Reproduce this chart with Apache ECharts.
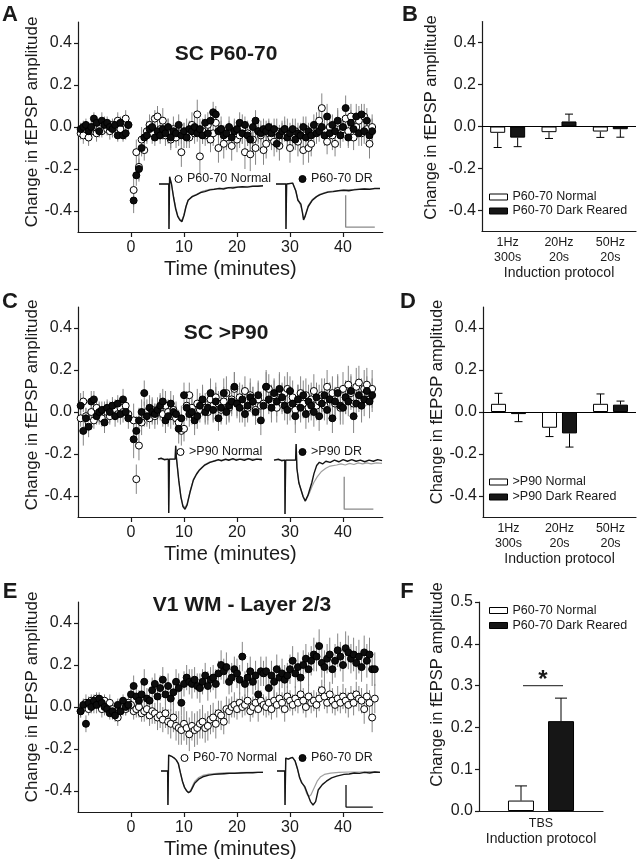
<!DOCTYPE html>
<html><head><meta charset="utf-8">
<script src="https://cdn.jsdelivr.net/npm/echarts@6/dist/echarts.min.js"></script>
<style>html,body{margin:0;padding:0;background:#fff}#c{width:638px;height:864px}</style>
</head><body><div id="c"></div>
<script>
// ---------------- DATA ----------------
// time-course sampling grid (minutes): one point every 30 s
const timeStart = -9.5, timeStep = 0.5;
const timeTicks = [0, 10, 20, 30, 40];
const ampTicks = [-0.4, -0.2, 0, 0.2, 0.4];

// Panel A – SC P60-70 (values in hundredths)
const aNormal = [-3,-4,-1,-5,-2,0,-3,-1,-2,1, -1,-2,1,0,3,-1,2,4,1,null,
  -30,-12,-19,-6,-11,-2,1,-3,4,5, -1,3,-4,-2,-6,-1,-5,-3,-12,-4,
  -2,-5,1,-3,6,-14,-2,-4,1,-6, -3,2,-10,-1,-8,-5,-3,-9,-2,-6,
  -4,-1,-12,-3,-13,-6,-10,-2,-4,-11, -8,-3,-5,-7,-2,-9,-4,-1,-3,-10,
  -5,-2,-7,-4,-11,-1,-10,-8,-3,1, 3,9,-2,-7,0,-4,-8,2,-3,-1,
  4,-2,5,-5,0,3,-3,5,-1,-8, 0,null];
const aNormalErr = [3,4,3,4,3,3,4,3,3,4, 3,4,3,3,4,3,3,4,3,null,
  8,6,7,6,5,5,5,5,4,5, 5,6,5,6,5,6,5,6,7,6, 6,5,6,5,7,8,6,5,6,6,
  6,6,7,6,7,6,6,7,6,6, 6,7,8,6,8,7,8,6,7,7, 7,6,6,7,6,7,6,6,7,7,
  6,6,7,6,7,6,7,6,6,6, 6,7,6,6,6,7,6,6,7,6, 6,7,6,6,6,7,6,6,6,7, 6,null];
const aDR = [-1,0,1,-2,0,4,2,-2,3,1, 2,0,-1,1,-4,2,-4,-3,1,null,
  -35,-23,-20,-10,-5,-4,-1,0,-5,-2, -4,-1,-3,0,-5,-2,-3,1,-4,-2,
  -5,-1,-2,0,-3,-1,-4,2,-3,3, 7,6,-2,-1,-4,-3,0,-5,-2,-1,
  2,-3,1,-4,-6,0,3,-2,-3,-1, -2,0,-3,-1,-8,-4,-2,-1,-5,-3,
  -1,-6,-3,-4,0,-5,-2,-4,1,-3, -2,0,-4,5,-3,1,-2,3,-4,0,
  9,-5,2,-1,5,-3,6,-2,3,-4, -2,null];
const aDRErr = [3,3,3,4,3,3,3,3,4,3, 3,3,4,3,3,3,3,3,3,null,
  6,5,5,4,4,4,4,4,4,4, 4,5,4,4,5,4,4,5,4,4, 5,4,4,5,4,5,4,4,5,4,
  5,4,5,4,5,4,5,4,5,4, 5,5,4,5,5,4,5,5,4,5, 5,4,5,5,4,5,5,4,5,5,
  5,5,5,4,5,5,4,5,5,5, 5,5,5,6,5,5,5,6,5,5, 6,5,6,5,6,6,5,6,6,5, 6,null];

// Panel C – SC >P90
const cNormal = [-3,5,-2,-5,0,-4,2,-1,-3,1, 0,-2,3,1,-1,2,0,3,-1,null,
  -4,-32,-16,-5,-1,0,-3,1,-2,0, 2,-1,3,0,-2,1,-3,-5,-9,-8,
  3,8,2,-2,4,1,5,2,0,6, 3,7,4,1,5,9,2,6,11,4,
  7,3,10,2,8,5,1,6,3,4, 12,11,5,8,2,10,6,9,11,3,
  7,1,5,9,4,8,2,6,10,3, 5,8,3,12,6,9,4,10,2,11,
  7,13,9,4,12,14,8,11,13,6, 11,null];
const cNormalErr = [4,5,4,4,5,4,4,5,4,4, 5,4,4,5,4,4,5,4,4,null,
  8,7,7,6,6,6,5,6,6,6, 6,6,7,6,6,7,6,6,7,6, 7,6,7,6,7,6,7,7,6,7,
  7,7,6,7,7,8,7,7,8,7, 7,8,7,7,8,7,7,8,7,7, 8,7,8,7,7,8,7,8,8,7,
  8,7,8,8,7,8,7,8,8,7, 8,8,7,8,8,8,7,8,8,8, 8,9,8,8,9,8,8,9,8,8, 9,null];
const cDR = [3,-9,-3,-7,5,6,-2,0,1,-5, 2,0,3,-2,4,-1,6,0,-3,null,
  -13,-9,-4,0,9,-2,2,0,-1,1, 3,5,-4,-2,4,0,-1,-8,-3,8,
  2,-1,0,-4,-2,3,6,0,2,9, 1,5,-3,2,9,0,3,5,12,4,
  2,6,-1,3,7,5,0,8,-4,3, 12,6,2,9,5,11,7,3,1,10,
  4,-2,6,2,8,-1,5,3,0,7, -2,4,8,1,6,-3,5,9,3,2,
  7,5,10,-2,4,8,3,6,10,5, 8,null];
const cDRErr = [6,7,5,5,5,4,4,5,4,5, 4,5,4,5,4,5,5,4,5,null,
  9,7,6,6,6,5,6,6,5,6, 6,6,6,5,6,6,6,7,6,6, 6,6,6,7,6,6,7,6,6,7,
  6,7,6,7,7,6,7,7,7,6, 7,7,6,7,7,7,6,7,7,7, 7,7,7,7,7,8,7,7,7,7,
  7,8,7,7,7,7,8,7,7,7, 7,7,8,7,8,7,7,8,7,8, 8,7,8,8,7,8,8,8,7,8, 8,null];

// Panel E – V1 WM - Layer 2/3
const eNormal = [-2,0,2,-1,3,1,4,2,-1,3, 0,2,-1,-3,-5,-2,0,-1,2,1,
  -2,-1,0,-3,-2,-1,-4,-2,-3,-5, -4,-6,-3,-7,-8,-5,-9,-10,-11,-8,
  -10,-13,-9,-11,-10,-8,-7,-10,-9,-6, -5,-8,-3,-4,-7,-1,-2,0,1,-1,
  2,0,1,3,-2,0,2,-1,3,1, 0,2,-1,3,1,4,2,-1,5,3,
  1,4,2,6,3,0,5,2,3,1, 4,8,5,2,6,3,1,4,2,5,
  3,1,5,2,6,4,3,-1,5,2, -5,4];
const eNormalErr = [3,3,4,3,3,4,3,3,4,3, 3,4,3,3,4,3,4,3,3,4,
  4,4,5,4,5,5,5,6,5,6, 6,6,7,6,7,7,7,8,7,8, 8,8,7,8,8,7,8,7,7,7,
  7,7,6,7,6,6,6,5,6,5, 5,5,5,6,5,5,5,6,5,5, 5,6,5,5,6,5,5,6,5,5,
  5,6,5,5,6,5,6,5,5,6, 6,5,6,5,6,6,5,6,5,6, 6,6,5,6,6,6,6,7,6,6, 7,7];
const eDR = [-2,1,-8,2,0,3,1,4,2,0, -1,-3,-2,-4,1,-2,3,0,1,6,
  10,5,3,6,12,4,3,8,11,5, 9,13,6,10,4,7,12,9,2,11,
  14,12,11,13,10,9,12,15,10,13, 14,11,16,20,17,19,12,14,18,16,
  13,24,11,14,17,12,15,6,17,16, 17,9,15,12,18,14,16,13,15,18,
  22,16,19,14,20,23,18,22,25,24, 29,21,19,23,25,18,22,27,24,20,
  28,26,23,25,21,24,19,26,22,25, 18,18];
const eDRErr = [3,3,4,3,3,3,4,3,3,4, 3,3,4,3,3,4,3,4,3,5,
  5,4,5,5,6,5,5,6,5,6, 6,6,5,6,6,6,6,7,6,6, 6,6,7,6,6,7,6,6,7,6,
  6,7,6,7,6,7,6,7,6,7, 7,7,6,7,7,6,7,7,7,6, 7,6,7,7,7,6,7,7,6,7,
  7,7,7,8,7,7,8,7,8,7, 8,7,8,7,8,7,8,8,7,8, 8,8,7,8,8,8,7,8,8,8, 8,8];

// Bar panels
const protocols = ['1Hz\n300s', '20Hz\n20s', '50Hz\n20s'];
const bNormal = [-0.030, -0.027, -0.024], bNormalErr = [0.070, 0.030, 0.028];
const bDR = [-0.053, 0.024, -0.013], bDRErr = [0.043, 0.035, 0.038];
const dNormal = [0.039, -0.075, 0.039], dNormalErr = [0.050, 0.042, 0.047];
const dDR = [-0.010, -0.102, 0.035], dDRErr = [0.036, 0.065, 0.017];
const fProtocols = ['TBS'];
const fNormal = [0.025], fNormalErr = [0.035];
const fDR = [0.215], fDRErr = [0.055];

// Inset example traces ([% of sweep, normalised amplitude]); grey = baseline, black = after induction
const trA1grey = [[0,0],[9.4,0],[9.6,-1],[10,-1],[10.2,0.15],[11,0.13],[12,0.0],[14,-0.28],[16,-0.52],[18,-0.7],[20,-0.78],[22,-0.81],[24,-0.68],[26,-0.49],[28,-0.36],[32,-0.27],[36,-0.23],[42,-0.16],[49,-0.12],[55,-0.1],[62,-0.09],[71,-0.07],[80,-0.06],[90,-0.05],[100,-0.04]];
const trA1black = [[0,0],[9.4,0],[9.6,-1],[10,-1],[10.2,0.16],[11,0.14],[12,0.0],[14,-0.3],[16,-0.55],[18,-0.72],[20,-0.8],[22,-0.84],[24,-0.7],[26,-0.5],[28,-0.36],[32,-0.28],[36,-0.24],[40,-0.19],[44,-0.17],[49,-0.13],[53,-0.12],[58,-0.1],[62,-0.11],[67,-0.08],[71,-0.09],[76,-0.07],[80,-0.06],[85,-0.07],[90,-0.05],[95,-0.05],[100,-0.04]];
const trA2grey = [[0,0],[9.4,0],[9.6,-1],[10,-1],[10.2,0],[16,0.02],[17.5,0.05],[19,-0.15],[21,-0.34],[22.5,-0.4],[24,-0.44],[25.5,-0.62],[26.5,-0.77],[28,-0.7],[31,-0.48],[35,-0.34],[42,-0.23],[50,-0.17],[58,-0.15],[66,-0.13],[75,-0.12],[85,-0.1],[100,-0.1]];
const trA2black = [[0,0],[9.4,0],[9.6,-1],[10,-1],[10.2,0],[16,0.02],[17.5,0.05],[19,-0.15],[21,-0.36],[22.5,-0.4],[24,-0.45],[25.5,-0.65],[26.5,-0.8],[28,-0.72],[31,-0.5],[35,-0.36],[39,-0.28],[42,-0.24],[46,-0.21],[50,-0.18],[55,-0.17],[60,-0.15],[65,-0.14],[70,-0.15],[75,-0.13],[80,-0.12],[85,-0.11],[90,-0.12],[95,-0.1],[100,-0.1]];
const trC1grey = [[0,0],[10,0],[10.3,-1],[10.8,-1],[11,0],[16.5,0],[17,0.25],[17.6,0.05],[20,-0.4],[22,-0.7],[24,-0.86],[26,-0.9],[28,-0.83],[31,-0.58],[34,-0.38],[37,-0.27],[40,-0.19],[45,-0.1],[50,-0.05],[55,-0.03],[60,-0.02],[70,-0.01],[80,0],[90,0],[100,0]];
const trC1black = [[0,0],[3,0.02],[6,-0.01],[10,0],[10.3,-1],[10.8,-1],[11,0],[16.5,0],[17,0.25],[17.6,0.05],[20,-0.4],[22,-0.7],[24,-0.88],[26,-0.93],[28,-0.85],[31,-0.6],[34,-0.39],[37,-0.28],[40,-0.2],[45,-0.11],[50,-0.06],[55,-0.03],[58,-0.01],[61,-0.03],[65,0],[68,-0.02],[72,0.01],[75,-0.02],[79,0],[83,-0.02],[87,0.01],[91,-0.02],[95,0],[100,-0.01]];
const trC2grey = [[0,0],[10,0],[10.2,-1],[10.6,-1],[10.8,0],[20,0],[20.5,0.3],[21.2,-0.15],[23,-0.42],[25,-0.55],[27,-0.68],[29,-0.76],[30,-0.78],[31.5,-0.66],[33,-0.6],[35,-0.5],[37,-0.41],[40,-0.31],[44,-0.21],[48,-0.15],[52,-0.11],[58,-0.09],[62,-0.07],[66,-0.09],[70,-0.06],[74,-0.08],[78,-0.05],[82,-0.07],[86,-0.05],[90,-0.07],[95,-0.05],[100,-0.06]];
const trC2black = [[0,0],[4,0.02],[7,-0.01],[10,0],[10.2,-1],[10.6,-1],[10.8,0],[20,0],[20.5,0.3],[21.2,-0.15],[23,-0.42],[25,-0.55],[27,-0.68],[29,-0.76],[30,-0.78],[31.5,-0.65],[33,-0.55],[35,-0.42],[37,-0.25],[39.5,-0.1],[42,-0.04],[45,-0.07],[48,-0.02],[52,-0.04],[56,0],[60,-0.03],[64,0.01],[68,-0.02],[72,0.01],[76,-0.02],[80,0],[84,-0.03],[88,0],[92,-0.02],[96,0.01],[100,-0.01]];
const trE1grey = [[0,0],[6.5,0],[6.8,-1],[7.2,-1],[7.5,0.47],[9,0.46],[11,0.42],[13,0.38],[15,0.32],[17,0.22],[19,-0.05],[21,-0.3],[23,-0.47],[25,-0.57],[27,-0.62],[29,-0.57],[31,-0.43],[33,-0.31],[37,-0.19],[41,-0.13],[47,-0.09],[55,-0.07],[65,-0.05],[75,-0.05],[85,-0.04],[100,-0.03]];
const trE1black = [[0,0],[6.5,0],[6.8,-1],[7.2,-1],[7.5,0.47],[9,0.46],[11,0.42],[13,0.38],[15,0.32],[17,0.22],[19,-0.05],[21,-0.3],[23,-0.48],[25,-0.58],[27,-0.64],[29,-0.6],[31,-0.48],[33,-0.36],[37,-0.24],[41,-0.17],[47,-0.12],[52,-0.1],[57,-0.09],[62,-0.08],[67,-0.07],[72,-0.07],[78,-0.06],[84,-0.05],[90,-0.05],[95,-0.04],[100,-0.04]];
const trE2grey = [[0,0],[7.5,0],[7.8,-1],[8.2,-1],[8.5,0.38],[11,0.35],[13,0.38],[15,0.4],[16.5,0.45],[17.5,0.3],[20,0.05],[22,-0.2],[24,-0.32],[27,-0.5],[29,-0.68],[31,-0.75],[33,-0.7],[36,-0.5],[39,-0.3],[42,-0.18],[46,-0.1],[52,-0.06],[60,-0.04],[70,-0.03],[80,-0.03],[90,-0.02],[100,-0.03]];
const trE2black = [[0,0],[7.5,0],[7.8,-1],[8.2,-1],[8.5,0.38],[11,0.35],[13,0.38],[15,0.4],[16.5,0.45],[17.5,0.3],[20,0.05],[22,-0.2],[24,-0.35],[27,-0.46],[30,-0.7],[32.5,-0.9],[35,-1.0],[37.5,-0.9],[40,-0.56],[44,-0.4],[48,-0.3],[53,-0.2],[58,-0.15],[65,-0.1],[70,-0.09],[75,-0.06],[80,-0.07],[85,-0.04],[90,-0.06],[95,-0.03],[100,-0.04]];
// calibration bars drawn in the second inset's units
const scaleBarA = [[67,-0.25],[67,-0.96],[95,-0.96]];
const scaleBarC = [[65,-0.31],[65,-0.91],[92,-0.91]];
const scaleBarE = [[67,-0.41],[67,-1.06],[93,-1.06]];

// ---------------- CHART ----------------
const FONT = '"Liberation Sans", Arial, Helvetica, sans-serif';
const INK = '#1a1a1a';
const ERRC = '#858585';
const grids = [], xAxes = [], yAxes = [], series = [], legends = [];

function pts(vals) {
  const out = [];
  vals.forEach((v, i) => { if (v !== null) out.push([timeStart + timeStep * i, v / 100]); });
  return out;
}
function errPts(vals, e) {
  const out = [];
  vals.forEach((v, i) => { if (v !== null) out.push([timeStart + timeStep * i, v / 100, e[i] / 100]); });
  return out;
}
function addGrid(g) { grids.push(g); return grids.length - 1; }

function yAxisAmp(gi, min, max, ticks, nameGap, shift, fs) {
  return {
    gridIndex: gi, type: 'value', min: min, max: max,
    axisLine: { show: true, onZero: false, lineStyle: { color: INK, width: 1.2 } },
    axisTick: { show: true, length: 4, customValues: ticks, lineStyle: { color: INK, width: 1.2 } },
    axisLabel: { customValues: ticks, color: INK, fontSize: 16, fontFamily: FONT, margin: 6, formatter: v => v.toFixed(1) },
    splitLine: { show: false },
    name: 'Change in fEPSP amplitude', nameLocation: 'middle', nameGap: nameGap,
    nameTextStyle: { color: INK, fontSize: fs, fontFamily: FONT, padding: [0, 0, 0, shift] }
  };
}

function timePanel(box, normal, normalErr, dr, drErr, id, nameN, nameD, legN, legD, nameGap, shift) {
  const gi = addGrid(box);
  xAxes.push({
    gridIndex: gi, type: 'value', min: -10, max: 47.5,
    axisLine: { show: true, onZero: false, lineStyle: { color: INK, width: 1.2 } },
    axisTick: { show: true, length: 5, customValues: timeTicks, lineStyle: { color: INK, width: 1.2 } },
    axisLabel: { customValues: timeTicks, color: INK, fontSize: 16, fontFamily: FONT, margin: 8 },
    splitLine: { show: false },
    name: 'Time (minutes)', nameLocation: 'middle', nameGap: 27,
    nameTextStyle: { color: INK, fontSize: 20, fontFamily: FONT }
  });
  yAxes.push(yAxisAmp(gi, -0.5, 0.5, ampTicks, nameGap, shift, 17));
  const errRender = (params, api) => {
    const t = api.value(0), v = api.value(1), e = api.value(2);
    const p1 = api.coord([t, v - e]), p2 = api.coord([t, v + e]);
    return { type: 'line', shape: { x1: p1[0], y1: p1[1], x2: p2[0], y2: p2[1] }, style: { stroke: ERRC, lineWidth: 1 } };
  };
  series.push({ type: 'custom', xAxisIndex: gi, yAxisIndex: gi, z: 2, silent: true, data: errPts(normal, normalErr), renderItem: errRender });
  series.push({ type: 'custom', xAxisIndex: gi, yAxisIndex: gi, z: 2, silent: true, data: errPts(dr, drErr), renderItem: errRender });
  series.push({ type: 'scatter', name: id + '|' + nameN, xAxisIndex: gi, yAxisIndex: gi, z: 3, symbol: 'circle', symbolSize: 7,
    itemStyle: { color: '#fff', borderColor: '#000', borderWidth: 1, opacity: 1 }, data: pts(normal) });
  series.push({ type: 'scatter', name: id + '|' + nameD, xAxisIndex: gi, yAxisIndex: gi, z: 4, symbol: 'circle', symbolSize: 7,
    itemStyle: { color: '#0d0d0d', borderColor: '#000', borderWidth: 1, opacity: 1 }, data: pts(dr) });
  const legBase = { orient: 'horizontal', padding: 0, itemWidth: 7, itemHeight: 7, selectedMode: false,
    formatter: n => n.split('|')[1], textStyle: { color: INK, fontSize: 12.5, fontFamily: FONT, lineHeight: 14 } };
  legends.push(Object.assign({}, legBase, { left: legN[0], top: legN[1],
    data: [{ name: id + '|' + nameN, icon: 'circle', itemStyle: { color: '#fff', borderColor: '#000', borderWidth: 1, opacity: 1 } }] }));
  legends.push(Object.assign({}, legBase, { left: legD[0], top: legD[1],
    data: [{ name: id + '|' + nameD, icon: 'circle', itemStyle: { color: '#0d0d0d', borderColor: '#000', borderWidth: 1, opacity: 1 } }] }));
}

function inset(box, ymin, ymax, grey, black, bar, barColor) {
  const gi = addGrid(box);
  xAxes.push({ gridIndex: gi, type: 'value', min: 0, max: 100, show: false });
  yAxes.push({ gridIndex: gi, type: 'value', min: ymin, max: ymax, show: false });
  series.push({ type: 'line', xAxisIndex: gi, yAxisIndex: gi, z: 5, silent: true, showSymbol: false, data: grey,
    lineStyle: { color: '#a0a0a0', width: 1.2 } });
  series.push({ type: 'line', xAxisIndex: gi, yAxisIndex: gi, z: 6, silent: true, showSymbol: false, data: black,
    lineStyle: { color: '#151515', width: 1.4 } });
  if (bar) series.push({ type: 'line', xAxisIndex: gi, yAxisIndex: gi, z: 6, silent: true, showSymbol: false, data: bar,
    lineStyle: { color: barColor, width: 1.3 } });
}

function barPanel(box, cats, normal, normalErr, dr, drErr, id, nameN, nameD, opts) {
  const gi = addGrid(box);
  xAxes.push({
    gridIndex: gi, type: 'category', data: cats,
    axisLine: { show: true, onZero: false, lineStyle: { color: INK, width: 1.2 } },
    axisTick: { show: false },
    axisLabel: { color: INK, fontSize: 12.5, lineHeight: 15, fontFamily: FONT, margin: opts.labelMargin },
    name: 'Induction protocol', nameLocation: 'middle', nameGap: opts.nameGapX,
    nameTextStyle: { color: INK, fontSize: 14, fontFamily: FONT }
  });
  yAxes.push(yAxisAmp(gi, opts.min, opts.max, opts.ticks, opts.nameGapY, opts.shift, 16.5));
  const barN = { type: 'bar', name: id + '|' + nameN, xAxisIndex: gi, yAxisIndex: gi, data: normal, barWidth: opts.bw, barGap: opts.gap,
    itemStyle: { color: '#fff', borderColor: '#000', borderWidth: 1 }, z: 3 };
  if (opts.zeroLine) barN.markLine = { silent: true, symbol: 'none', label: { show: false },
    lineStyle: { color: '#000', width: 1, type: 'solid' }, data: [{ yAxis: 0 }] };
  series.push(barN);
  series.push({ type: 'bar', name: id + '|' + nameD, xAxisIndex: gi, yAxisIndex: gi, data: dr, barWidth: opts.bw, barGap: opts.gap,
    itemStyle: { color: '#161616', borderColor: '#000', borderWidth: 1 }, z: 3 });
  const whisk = (means, errs, dx) => ({
    type: 'custom', xAxisIndex: gi, yAxisIndex: gi, z: 4, silent: true,
    data: means.map((m, i) => [i, m, errs[i]]),
    renderItem: (params, api) => {
      const c = api.value(0), m = api.value(1), e = api.value(2);
      const dir = m >= 0 ? 1 : -1;
      const p0 = api.coord([c, m]), p1 = api.coord([c, m + dir * e]);
      const x = p0[0] + dx;
      return { type: 'group', children: [
        { type: 'line', shape: { x1: x, y1: p0[1], x2: x, y2: p1[1] }, style: { stroke: '#000', lineWidth: 1 } },
        { type: 'line', shape: { x1: x - opts.cap, y1: p1[1], x2: x + opts.cap, y2: p1[1] }, style: { stroke: '#000', lineWidth: 1 } }
      ] };
    }
  });
  series.push(whisk(normal, normalErr, -opts.dx));
  series.push(whisk(dr, drErr, opts.dx));
  legends.push({ orient: 'vertical', left: opts.leg[0], top: opts.leg[1], padding: 0, itemGap: 0, itemWidth: 18, itemHeight: 6,
    selectedMode: false, formatter: n => n.split('|')[1],
    textStyle: { color: INK, fontSize: 12.5, fontFamily: FONT, lineHeight: opts.legLH },
    data: [
      { name: id + '|' + nameN, icon: 'rect', itemStyle: { color: '#fff', borderColor: '#000', borderWidth: 1 } },
      { name: id + '|' + nameD, icon: 'rect', itemStyle: { color: '#161616', borderColor: '#000', borderWidth: 1 } }
    ] });
  return gi;
}

// Left column
timePanel({ left: 78, top: 22, width: 304.75, height: 210 }, aNormal, aNormalErr, aDR, aDRErr, 'A', 'P60-70 Normal', 'P60-70 DR', [174.5, 172], [298.5, 172], 35, 10);
timePanel({ left: 78, top: 307, width: 304.75, height: 210 }, cNormal, cNormalErr, cDR, cDRErr, 'C', '>P90 Normal', '>P90 DR', [176.5, 445], [298.5, 445], 35, 14);
timePanel({ left: 78, top: 602, width: 304.75, height: 210 }, eNormal, eNormalErr, eDR, eDRErr, 'E', 'P60-70 Normal', 'P60-70 DR', [180.5, 751], [298.5, 751], 35, 20);

inset({ left: 159, top: 175, width: 104, height: 54 }, -1.0, 0.2, trA1grey, trA1black);
inset({ left: 276, top: 175, width: 104, height: 54 }, -1.0, 0.2, trA2grey, trA2black, scaleBarA, '#8a8a8a');
inset({ left: 158, top: 443, width: 104, height: 70 }, -1.0, 0.3, trC1grey, trC1black);
inset({ left: 274, top: 444, width: 108, height: 70 }, -1.0, 0.3, trC2grey, trC2black, scaleBarC, '#8a8a8a');
inset({ left: 161, top: 750.6, width: 102, height: 57.8 }, -1.1, 0.6, trE1grey, trE1black);
inset({ left: 277, top: 750.6, width: 103, height: 57.8 }, -1.1, 0.6, trE2grey, trE2black, scaleBarE, '#111');

// Right column
barPanel({ left: 482, top: 21.5, width: 154, height: 210 }, protocols, bNormal, bNormalErr, bDR, bDRErr, 'B', 'P60-70 Normal', 'P60-70 Dark Reared',
  { min: -0.5, max: 0.5, ticks: ampTicks, nameGapY: 42, shift: 18, bw: 15, gap: '33%', dx: 10, cap: 4, zeroLine: true, labelMargin: 4, nameGapX: 33, leg: [489, 190], legLH: 14 });
barPanel({ left: 483, top: 307, width: 153, height: 210 }, protocols, dNormal, dNormalErr, dDR, dDRErr, 'D', '>P90 Normal', '>P90 Dark Reared',
  { min: -0.5, max: 0.5, ticks: ampTicks, nameGapY: 36, shift: 20, bw: 15, gap: '33%', dx: 10, cap: 4, zeroLine: true, labelMargin: 4, nameGapX: 33, leg: [489, 474.5], legLH: 15 });
const fGrid = barPanel({ left: 479, top: 602, width: 124, height: 209 }, fProtocols, fNormal, fNormalErr, fDR, fDRErr, 'F', 'P60-70 Normal', 'P60-70 Dark Reared',
  { min: 0, max: 0.5, ticks: [0, 0.1, 0.2, 0.3, 0.4, 0.5], nameGapY: 33, shift: 44, bw: 26, gap: '54%', dx: 20, cap: 6, zeroLine: false, labelMargin: 5, nameGapX: 19, leg: [489, 603], legLH: 15 });

const chart = echarts.init(document.getElementById('c'), null, { renderer: 'canvas' });
chart.setOption({
  animation: false, backgroundColor: '#fff',
  grid: grids, xAxis: xAxes, yAxis: yAxes, series: series, legend: legends
});

// text annotations
const T = (x, y, text, font, align) => ({ type: 'text', x: x, y: y, silent: true, z: 10,
  style: { text: text, font: font, fill: INK, align: align || 'center', verticalAlign: 'middle' } });
const letterFont = 'bold 22px "Liberation Sans", Arial, sans-serif';
const titleFont = 'bold 21px "Liberation Sans", Arial, sans-serif';
const sig = chart.convertToPixel({ xAxisIndex: fGrid, yAxisIndex: fGrid }, [0, 0.3]);
chart.setOption({ graphic: [
  T(10, 15, 'A', letterFont), T(410, 15, 'B', letterFont),
  T(10, 302, 'C', letterFont), T(408, 302, 'D', letterFont),
  T(10, 592, 'E', letterFont), T(407, 592, 'F', letterFont),
  T(226, 54, 'SC P60-70', titleFont), T(226, 333, 'SC >P90', titleFont), T(242, 605, 'V1 WM - Layer 2/3', titleFont),
  { type: 'line', silent: true, z: 10, shape: { x1: sig[0] - 18, y1: sig[1], x2: sig[0] + 22, y2: sig[1] }, style: { stroke: '#444', lineWidth: 1.2 } },
  T(sig[0] + 2, sig[1] - 5, '*', 'bold 24px "Liberation Sans", Arial, sans-serif')
] });
</script>
</body></html>
